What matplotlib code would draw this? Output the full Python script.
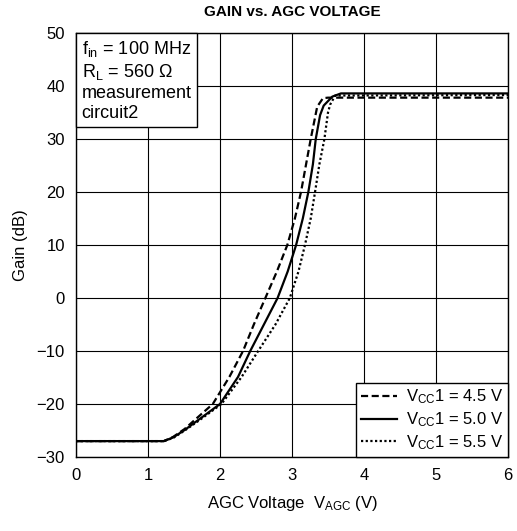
import matplotlib
matplotlib.use("Agg")
import matplotlib.pyplot as plt

plt.rcParams['font.family'] = ['Liberation Sans', 'DejaVu Sans']
plt.rcParams['mathtext.fontset'] = 'custom'
plt.rcParams['mathtext.rm'] = 'Liberation Sans'
plt.rcParams['mathtext.it'] = 'Liberation Sans'

# Data
x_45 = [0, 1.22, 1.35, 1.51, 1.65, 1.90, 2.13, 2.32, 2.47, 2.63, 2.79, 2.935, 3.04, 3.125, 3.195, 3.26, 3.35, 3.43, 3.5, 6]
y_45 = [-27, -27, -26.2, -24.7, -23, -20, -14.9, -10, -5, 0, 5, 10, 15, 20, 25.2, 30, 36.1, 37.7, 37.8, 37.8]

x_50 = [0, 1.22, 1.35, 1.51, 1.70, 2.0, 2.25, 2.42, 2.61, 2.80, 2.94, 3.057, 3.15, 3.227, 3.29, 3.33, 3.39, 3.44, 3.56, 3.68, 6]
y_50 = [-27, -27, -26.3, -24.9, -23, -20, -14.9, -10, -5, 0, 5, 10, 15, 20, 25.2, 30, 34.5, 36.3, 38.0, 38.6, 38.6]

x_55 = [0, 1.22, 1.35, 1.51, 1.72, 2.02, 2.30, 2.53, 2.77, 2.97, 3.09, 3.18, 3.26, 3.32, 3.38, 3.45, 3.5, 3.53, 3.6, 6]
y_55 = [-27, -27, -26.4, -25.0, -23, -20, -14.9, -10, -5, 0, 5, 10, 15, 20, 25.2, 30, 35, 36.5, 38.2, 38.3]

labels = ["V$_{\\mathrm{CC}}$1 = 4.5 V", "V$_{\\mathrm{CC}}$1 = 5.0 V", "V$_{\\mathrm{CC}}$1 = 5.5 V"]
x_ticks = [0, 1, 2, 3, 4, 5, 6]
y_ticks = [-30, -20, -10, 0, 10, 20, 30, 40, 50]

fig = plt.figure(figsize=(5.17, 5.31), dpi=100)
ax = fig.add_axes([76/517, 1-457/531, (508-76)/517, (457-33)/531])

ax.plot(x_45, y_45, color='black', lw=1.6, linestyle=(0, (3.2, 1.6)), label=labels[0])
ax.plot(x_50, y_50, color='black', lw=1.6, linestyle='-', label=labels[1])
ax.plot(x_55, y_55, color='black', lw=1.6, linestyle=(0, (1.0, 1.1)), label=labels[2])

ax.set_xlim(0, 6)
ax.set_ylim(-30, 50)
ax.set_xticks(x_ticks)
ax.set_yticks(y_ticks)
ax.set_yticklabels([str(v).replace('-', '\u2212') for v in y_ticks])
ax.tick_params(length=0, labelsize=12, pad=8)
ax.grid(True, color='black', lw=0.8)
for s in ax.spines.values():
    s.set_color('black')
    s.set_linewidth(1.0)

ax.set_xlabel("AGC Voltage  V$_{\\mathrm{AGC}}$ (V)", fontsize=12, labelpad=8)
ax.set_ylabel("Gain (dB)", fontsize=12, labelpad=6)
fig.text(292/517, 1-12/531, "GAIN vs. AGC VOLTAGE", ha='center', va='center',
         fontsize=11, fontweight='bold')

ax.text(0.013, 0.985,
        "f$_{\\mathrm{in}}$ = 100 MHz\nR$_{\\mathrm{L}}$ = 560 Ω\nmeasurement\ncircuit2",
        transform=ax.transAxes, ha='left', va='top', fontsize=13, linespacing=1.2,
        bbox=dict(boxstyle='square,pad=0.3', fc='white', ec='black', lw=1.0))

leg = ax.legend(loc='lower right', fontsize=12, frameon=True, fancybox=False,
                framealpha=1, edgecolor='black', borderaxespad=0.0,
                handlelength=2.2, handletextpad=0.5, labelspacing=0.25,
                borderpad=0.3)
leg.get_frame().set_linewidth(1.0)

fig.savefig("out.png", dpi=100)
